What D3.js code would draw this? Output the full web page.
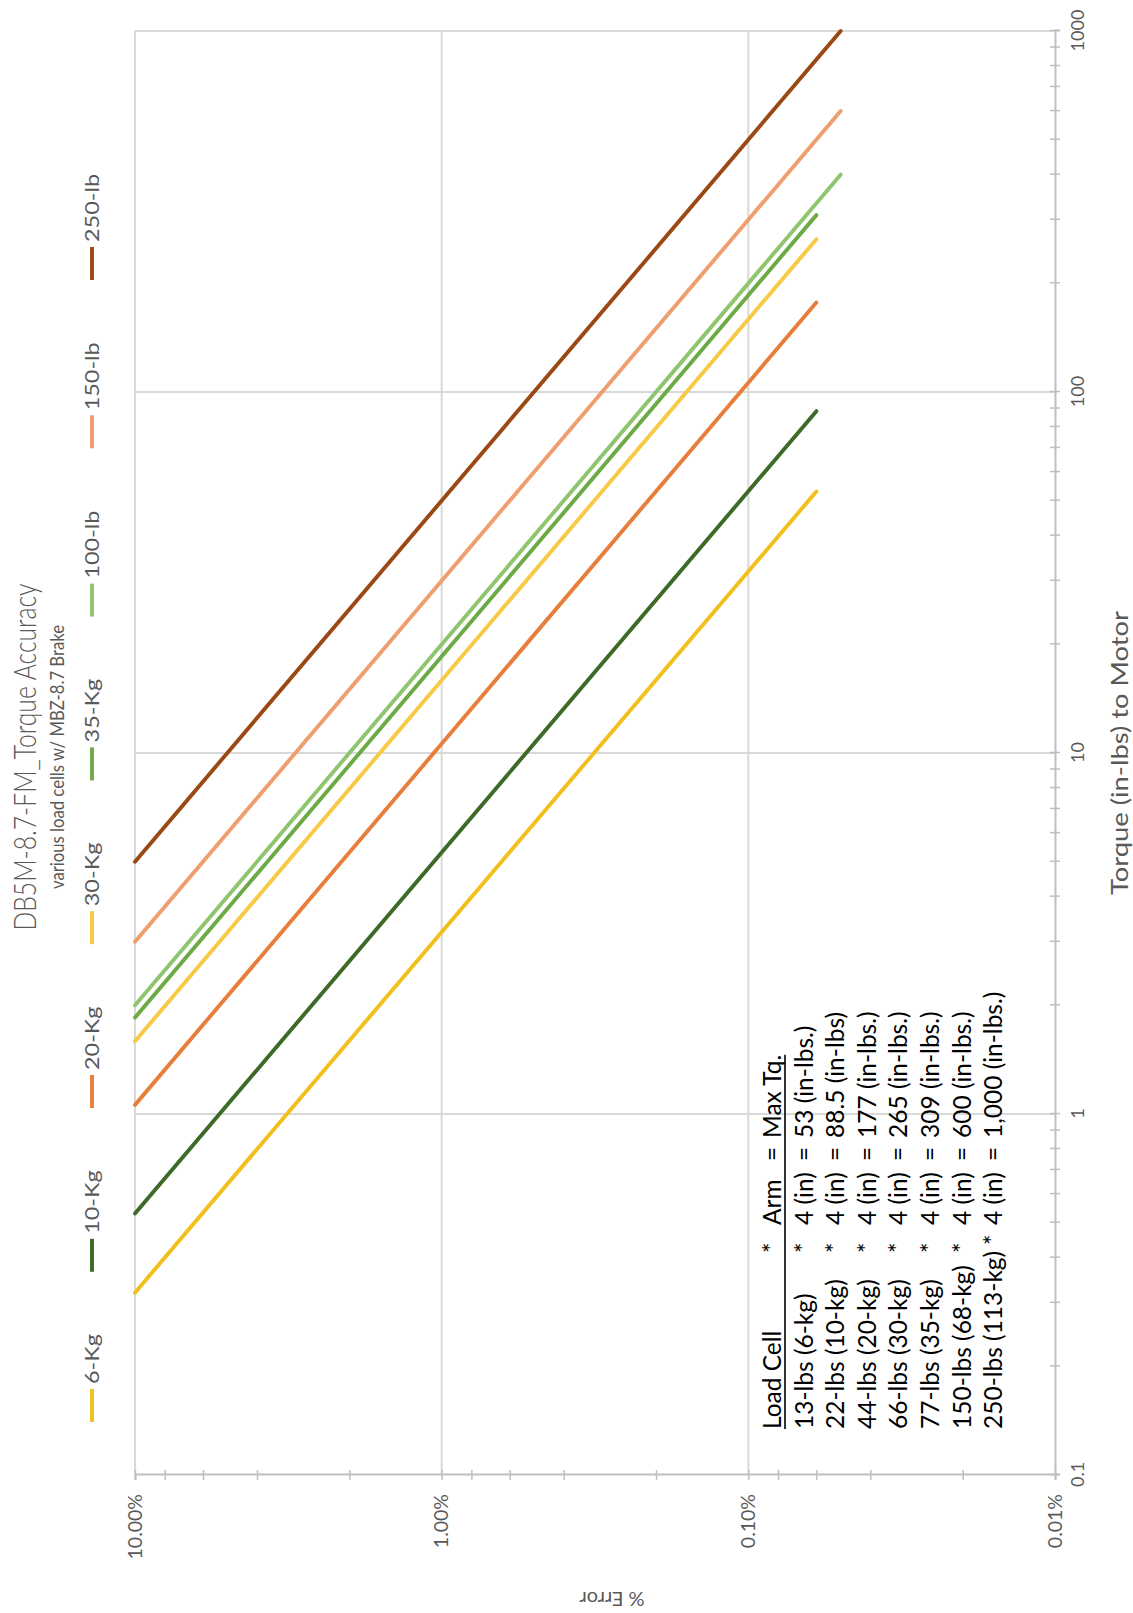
<!DOCTYPE html>
<html><head><meta charset="utf-8">
<script src="https://cdn.jsdelivr.net/npm/d3@7"></script>
<style>
body{margin:0;background:#fff}
svg{display:block}
text{font-family:Lato,"Open Sans",sans-serif}
</style>
</head><body><svg id="c" width="1133" height="1613"></svg>
<script>
// ---------- data ----------
const seriesNames = ["6-Kg","10-Kg","20-Kg","30-Kg","35-Kg","100-lb","150-lb","250-lb"];
const seriesColors = ["#F2C01C","#3E6A28","#E87E3C","#F8C944","#6CAA46","#8FC56E","#EF9E6F","#9B4914"];
// torque (in-lbs) at start / end of each line
const torqueValues = [[0.32,53],[0.53,88.5],[1.06,177],[1.59,265],[1.85,309],[2,400],[3,600],[5,1000]];
// % error at start / end of each line
const errorValues  = [[10,0.06],[10,0.06],[10,0.06],[10,0.06],[10,0.06],[10,0.05],[10,0.05],[10,0.05]];

const xTickValues = [0.1,1,10,100,1000];
const xTickLabels = ["0.1","1","10","100","1000"];
const yTickValues = [10,1,0.1,0.01];
const yTickLabels = ["10.00%","1.00%","0.10%","0.01%"];

const titleText = "DB5M-8.7-FM_Torque Accuracy";
const subtitleText = "various load cells w/ MBZ-8.7 Brake";
const xAxisTitle = "Torque (in-lbs) to Motor";
const yAxisTitle = "% Error";

const tableHeader = ["Load Cell","*","Arm","=","Max Tq."];
const tableLoadCell = ["13-lbs (6-kg)","22-lbs (10-kg)","44-lbs (20-kg)","66-lbs (30-kg)","77-lbs (35-kg)","150-lbs (68-kg)","250-lbs (113-kg)"];
const tableArm = ["4 (in)","4 (in)","4 (in)","4 (in)","4 (in)","4 (in)","4 (in)"];
const tableMaxTq = ["53 (in-lbs.)","88.5 (in-lbs)","177 (in-lbs.)","265 (in-lbs.)","309 (in-lbs.)","600 (in-lbs.)","1,000 (in-lbs.)"];

// ---------- layout (chart drawn unrotated, then turned -90deg) ----------
const SW = 1133, SH = 1613;
const m = {left:138, right:1582, top:135, bottom:1055};
const svg = d3.select("#c");
svg.append("rect").attr("width",SW).attr("height",SH).attr("fill","#fff");
const g = svg.append("g").attr("transform",`translate(0,${SH}) rotate(-90)`);

const x = d3.scaleLog().domain([0.1,1000]).range([m.left,m.right]);
const y = d3.scaleLog().domain([10,0.01]).range([m.top,m.bottom]);

const gridCol = "#D9D9D9", axisCol = "#BFBFBF", textCol = "#595959";

// gridlines
g.append("g").selectAll("line").data(xTickValues.slice(1)).join("line")
  .attr("x1",d=>x(d)).attr("x2",d=>x(d)).attr("y1",m.top).attr("y2",m.bottom)
  .attr("stroke",gridCol).attr("stroke-width",2);
g.append("g").selectAll("line").data(yTickValues.slice(0,-1)).join("line")
  .attr("y1",d=>y(d)).attr("y2",d=>y(d)).attr("x1",m.left).attr("x2",m.right)
  .attr("stroke",gridCol).attr("stroke-width",2);

// minor ticks
const xMinor = [];
[0.1,1,10,100].forEach(b=>{for(let k=1;k<10;k++) xMinor.push(b*k);}); xMinor.push(1000);
const yMinor = [];
[0.01,0.1,1].forEach(b=>{[1,2,4,6,8].forEach(k=>yMinor.push(b*k));}); yMinor.push(10);

const xAx = g.append("g").attr("transform",`translate(0,${m.bottom})`)
  .call(d3.axisBottom(x).tickValues(xMinor).tickFormat("").tickSizeOuter(0).tickSize(5));
xAx.select(".domain").attr("stroke",axisCol).attr("stroke-width",2);
xAx.selectAll(".tick line").attr("y1",-5).attr("y2",5).attr("stroke",axisCol).attr("stroke-width",1.5);

const yAx = g.append("g").attr("transform",`translate(${m.left},0)`)
  .call(d3.axisLeft(y).tickValues(yMinor).tickFormat("").tickSizeOuter(0).tickSize(5));
yAx.select(".domain").attr("stroke",axisCol).attr("stroke-width",2);
yAx.selectAll(".tick line").attr("x1",-5).attr("x2",5).attr("stroke",axisCol).attr("stroke-width",1.5);

// tick labels
const xLab = g.append("g").attr("transform",`translate(0,${m.bottom})`)
  .call(d3.axisBottom(x).tickValues(xTickValues).tickFormat((d,i)=>xTickLabels[i]).tickSize(0).tickPadding(16));
xLab.select(".domain").remove();
xLab.selectAll("text").attr("fill",textCol).style("font-size","18px").attr("font-family",null);

const yLab = g.append("g").attr("transform",`translate(${m.left},0)`)
  .call(d3.axisLeft(y).tickValues(yTickValues).tickFormat((d,i)=>yTickLabels[i]).tickSize(0).tickPadding(19));
yLab.select(".domain").remove();
yLab.selectAll("text").attr("fill",textCol).style("font-size","19.5px").attr("font-family",null);

// axis titles
g.append("text").attr("x",(m.left+m.right)/2).attr("y",1128).attr("text-anchor","middle")
  .attr("fill",textCol).style("font-size","23px")
  .attr("textLength",284).attr("lengthAdjust","spacingAndGlyphs").text(xAxisTitle);
g.append("text").attr("transform",`translate(21,612) rotate(-90)`).attr("text-anchor","middle")
  .attr("fill",textCol).style("font-size","20px").text(yAxisTitle);

// title
g.append("text").attr("x",856).attr("y",36).attr("text-anchor","middle")
  .attr("fill",textCol).style("font-size","32px").style("font-weight",300)
  .attr("textLength",347).attr("lengthAdjust","spacingAndGlyphs").text(titleText);
g.append("text").attr("x",856).attr("y",64).attr("text-anchor","middle")
  .attr("fill",textCol).style("font-size","20px")
  .attr("textLength",264).attr("lengthAdjust","spacingAndGlyphs").text(subtitleText);

// lines
const line = d3.line().x(d=>x(d[0])).y(d=>y(d[1]));
g.append("g").selectAll("path").data(seriesNames).join("path")
  .attr("d",(d,i)=>line(torqueValues[i].map((t,j)=>[t,errorValues[i][j]])))
  .attr("fill","none").attr("stroke",(d,i)=>seriesColors[i]).attr("stroke-width",3.9).attr("stroke-linecap","round");

// legend: widths measured, entries spread between first and last slot
const legStart = 191, legLast = 1333, markLen = 33, markGap = 5, legStretch = 1.2;
const leg = g.append("g").selectAll("g").data(seriesNames).join("g");
leg.append("line").attr("x1",0).attr("x2",markLen).attr("stroke",(d,i)=>seriesColors[i]).attr("stroke-width",3.9);
const legText = leg.append("text").attr("x",markLen+markGap).attr("dy","0.35em").attr("fill",textCol)
  .style("font-size","19.5px").text(d=>d);
const tw = [];
legText.each(function(){ const w=this.getComputedTextLength()*legStretch; tw.push(w);
  d3.select(this).attr("textLength",w).attr("lengthAdjust","spacingAndGlyphs"); });
const used = d3.sum(tw.slice(0,-1), w=>markLen+markGap+w);
const pad = (legLast-legStart-used)/(seriesNames.length-1);
let px = legStart; const legX = [];
tw.forEach(w=>{ legX.push(px); px += markLen+markGap+w+pad; });
leg.attr("transform",(d,i)=>`translate(${legX[i]},92)`);

// table (text box)
const tb = g.append("g").style("font-size","24.5px").attr("fill","#000");
const rowY = i => 781 + i*31.6;
const colLoad = 184, colStar = 360, colArm = 388, colEq = 452, colVal = 475;
const hdr = tb.append("g");
hdr.append("text").attr("x",colLoad).attr("y",rowY(0)).text(tableHeader[0]);
hdr.append("text").attr("x",colStar).attr("y",rowY(0)).text(tableHeader[1]);
hdr.append("text").attr("x",colArm).attr("y",rowY(0)).text(tableHeader[2]);
hdr.append("text").attr("x",colEq).attr("y",rowY(0)).text(tableHeader[3]);
const mx = hdr.append("text").attr("x",colVal).attr("y",rowY(0)).text(tableHeader[4]);
const mxEnd = colVal + mx.node().getComputedTextLength();
tb.append("line").attr("x1",colLoad).attr("x2",mxEnd).attr("y1",rowY(0)+4).attr("y2",rowY(0)+4).attr("stroke","#000").attr("stroke-width",1.6);
const rows = tb.append("g").selectAll("g").data(tableLoadCell).join("g");
const loadText = rows.append("text").attr("x",colLoad).attr("y",(d,i)=>rowY(i+1)).text(d=>d);
const loadEnd = [];
loadText.each(function(){ loadEnd.push(colLoad + this.getComputedTextLength()); });
rows.append("text").attr("x",(d,i)=>Math.max(colStar, loadEnd[i]+6)).attr("y",(d,i)=>rowY(i+1)).text("*");
rows.append("text").attr("x",(d,i)=>Math.max(colArm, loadEnd[i]+24)).attr("y",(d,i)=>rowY(i+1)).text((d,i)=>tableArm[i]);
rows.append("text").attr("x",colEq).attr("y",(d,i)=>rowY(i+1)).text("=");
rows.append("text").attr("x",colVal).attr("y",(d,i)=>rowY(i+1)).text((d,i)=>tableMaxTq[i]);
</script>
</body></html>
